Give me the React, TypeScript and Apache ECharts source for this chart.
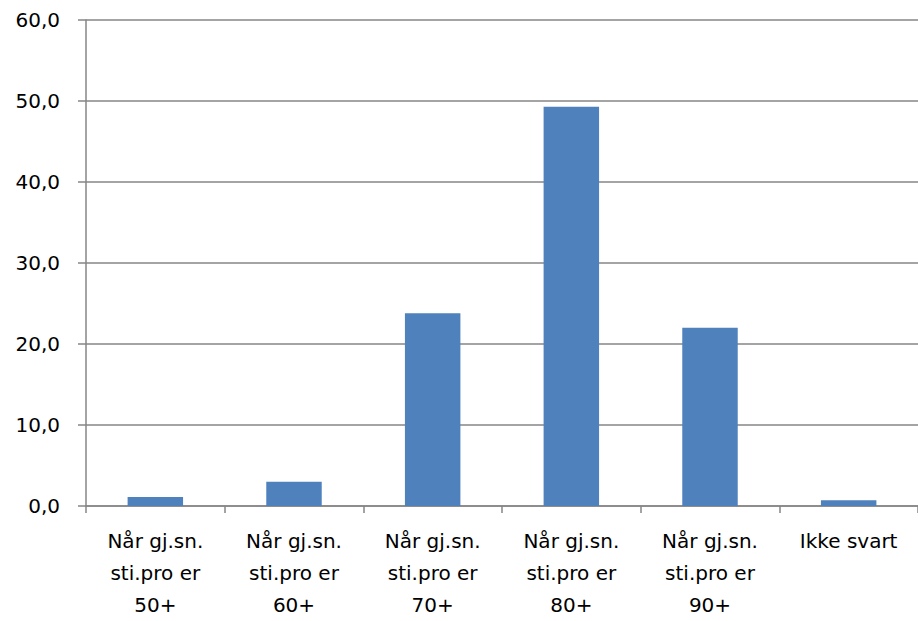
import React, { useEffect, useRef } from "react";
import * as echarts from "echarts";

const categories = [
  "Når gj.sn.\nsti.pro er\n50+",
  "Når gj.sn.\nsti.pro er\n60+",
  "Når gj.sn.\nsti.pro er\n70+",
  "Når gj.sn.\nsti.pro er\n80+",
  "Når gj.sn.\nsti.pro er\n90+",
  "Ikke svart",
];
const values = [1.1, 3.0, 23.8, 49.3, 22.0, 0.7];

const axisGray = "#868686";
const font = "'DejaVu Sans', sans-serif";

export default function App() {
  const ref = useRef<HTMLDivElement>(null);
  useEffect(() => {
    if (!ref.current) return;
    const chart = echarts.init(ref.current, null, { renderer: "svg" });
    chart.setOption({
      animation: false,
      backgroundColor: "#ffffff",
      grid: { left: 86, top: 20, bottom: 110, right: -8, containLabel: false },
      xAxis: {
        type: "category",
        data: categories,
        axisLine: { show: true, lineStyle: { color: axisGray, width: 1.5 } },
        axisTick: { show: true, length: 7, lineStyle: { color: axisGray, width: 1.5 } },
        axisLabel: {
          interval: 0,
          margin: 19,
          color: "#000",
          fontSize: 20,
          lineHeight: 32,
          fontFamily: font,
        },
      },
      yAxis: {
        type: "value",
        min: 0,
        max: 60,
        interval: 10,
        axisLine: { show: true, lineStyle: { color: axisGray, width: 1.5 } },
        axisTick: { show: true, length: 8, lineStyle: { color: axisGray, width: 1.5 } },
        splitLine: { show: true, lineStyle: { color: axisGray, width: 1.5 } },
        axisLabel: {
          margin: 26,
          color: "#000",
          fontSize: 20,
          fontFamily: font,
          formatter: (v: number) => v.toFixed(1).replace(".", ","),
        },
      },
      series: [
        {
          type: "bar",
          data: values,
          barWidth: "40%",
          itemStyle: { color: "#4F81BD" },
        },
      ],
    });
    return () => chart.dispose();
  }, []);
  return (
    <div
      ref={ref}
      style={{ position: "fixed", left: 0, top: 0, width: 918, height: 621 }}
    />
  );
}
